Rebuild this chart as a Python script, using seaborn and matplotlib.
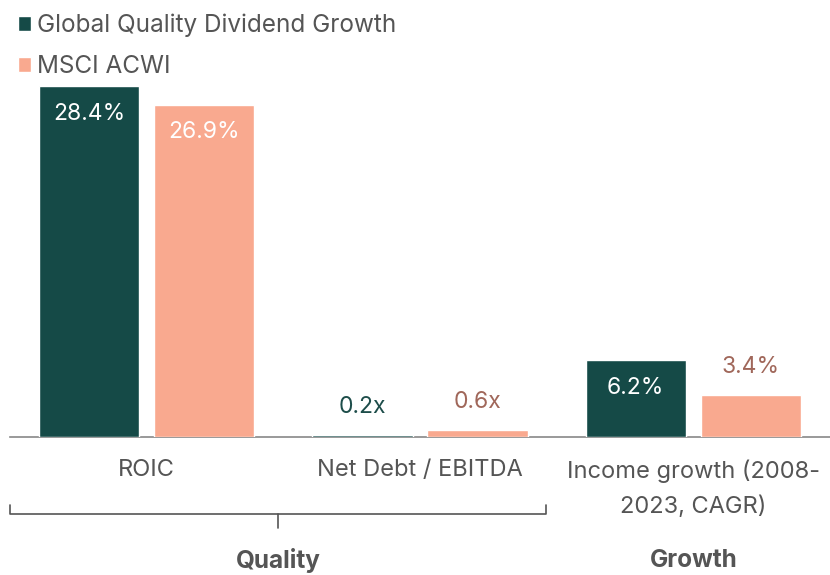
import pandas as pd
import seaborn as sns
import matplotlib.pyplot as plt
import matplotlib.transforms as mtransforms

# Data
categories = ["ROIC", "Net Debt / EBITDA", "Income growth (2008-\n2023, CAGR)"]
series = ["Global Quality Dividend Growth", "MSCI ACWI"]
fund_values = [28.4, 0.2, 6.2]
index_values = [26.9, 0.6, 3.4]
fund_labels = ["28.4%", "0.2x", "6.2%"]
index_labels = ["26.9%", "0.6x", "3.4%"]
groups = ["Quality", "Growth"]

dark = "#154a47"
light = "#f9a98f"
grey = "#555555"

df = pd.DataFrame({
    "category": categories * 2,
    "series": [series[0]] * 3 + [series[1]] * 3,
    "value": fund_values + index_values,
})

sns.set_theme(style="white")
plt.rcParams["font.family"] = ["Inter", "DejaVu Sans"]

fig = plt.figure(figsize=(8.3, 5.75), dpi=100)
ax = fig.add_axes([10 / 830, 1 - 437 / 575, 820 / 830, 351 / 575])

sns.barplot(data=df, x="category", y="value", hue="series", palette=[dark, light],
            width=0.842, gap=0.13, ax=ax, saturation=1)

ax.set_xlim(-0.5, 2.5)
ax.set_ylim(0, 28.4)
ax.set_xlabel("")
ax.set_ylabel("")
ax.set_yticks([])
for s in ["top", "left", "right"]:
    ax.spines[s].set_visible(False)
ax.spines["bottom"].set_color("#888888")
ax.spines["bottom"].set_linewidth(1.2)
ax.spines["bottom"].set_zorder(0.5)
ax.tick_params(axis="x", length=0, pad=16, labelsize=17, labelcolor=grey)
for t in ax.get_xticklabels():
    t.set_linespacing(1.72)
    t.set_verticalalignment("top")

# Value labels
label_sets = [fund_labels, index_labels]
outside_colors = ["#1d4d4a", "#a0675a"]
for ci, cont in enumerate(ax.containers):
    for bi, bar in enumerate(cont):
        h = bar.get_height()
        x = bar.get_x() + bar.get_width() / 2
        if h > 5:
            ax.annotate(label_sets[ci][bi], (x, h), xytext=(0, -20), textcoords="offset points",
                        ha="center", va="center", color="white", fontsize=16.5)
        else:
            ax.annotate(label_sets[ci][bi], (x, h), xytext=(0, 20), textcoords="offset points",
                        ha="center", va="center", color=outside_colors[ci], fontsize=16.5)

# Legend
handles, labels = ax.get_legend_handles_labels()
ax.get_legend().remove()
fig.legend(handles, labels, loc="upper left", bbox_to_anchor=(0.005, 1.0), frameon=False,
           fontsize=17.5, handlelength=0.55, handleheight=0.55, handletextpad=0.25,
           labelspacing=0.75, labelcolor=grey, borderaxespad=0.15)

# Group bracket
trans = mtransforms.blended_transform_factory(ax.transData, ax.transAxes)
bx = [-0.5, -0.5, 1.46, 1.46]
by = [-0.194, -0.219, -0.219, -0.194]
ax.plot(bx, by, color=grey, lw=1.2, transform=trans, clip_on=False)
ax.plot([0.48, 0.48], [-0.219, -0.259], color=grey, lw=1.2, transform=trans, clip_on=False)

ax.text(0.48, -0.353, groups[0], transform=trans, ha="center", va="center",
        fontsize=17.5, fontweight="bold", color=grey)
ax.text(2.0, -0.353, groups[1], transform=trans, ha="center", va="center",
        fontsize=17.5, fontweight="bold", color=grey)

fig.savefig("out.png", dpi=100)
